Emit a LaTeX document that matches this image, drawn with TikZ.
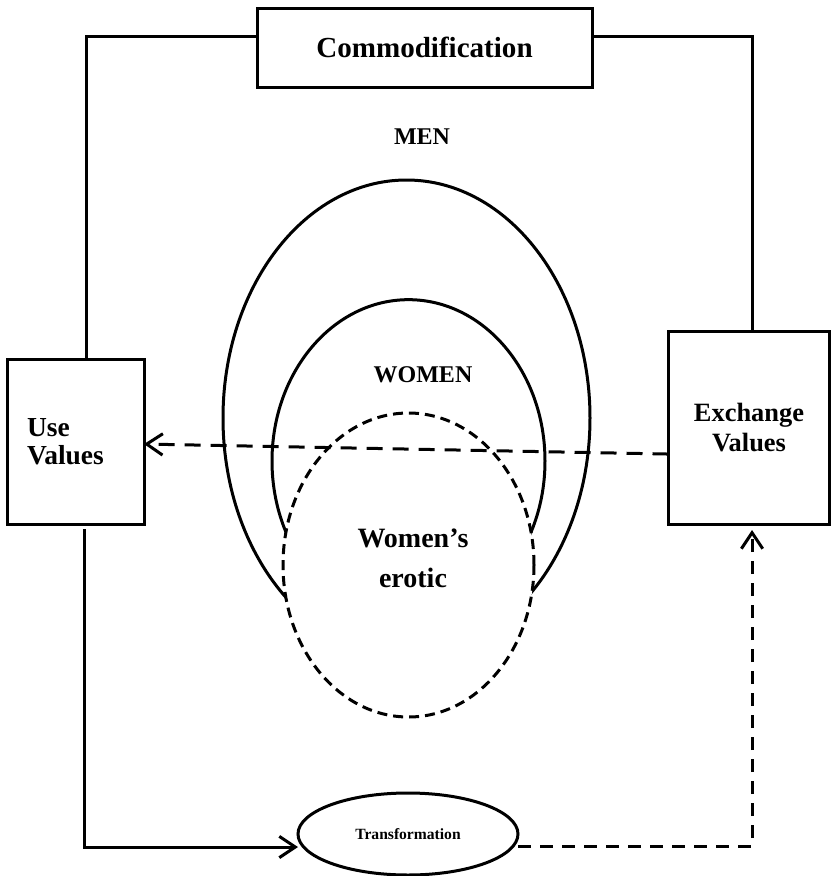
\documentclass[tikz,border=0pt]{standalone}
\usepackage{fontspec}
\setmainfont{Liberation Serif}
\usetikzlibrary{shapes.geometric,arrows.meta}
\begin{document}
\begin{tikzpicture}[x=0.75pt,y=-0.75pt,
  lw/.style={line width=2.25pt},
  boxnode/.style={draw,lw,inner sep=0pt,outer sep=0pt},
  oval/.style={draw,lw,ellipse,inner sep=0pt,outer sep=0pt},
  lbl/.style={inner sep=0pt,outer sep=0pt,font=\bfseries},
  tip/.style={-{Straight Barb[length=12pt,width=16pt,line width=2.25pt]}},
  dashlong/.style={dash pattern=on 12pt off 7.5pt},
  dashmid/.style={dash pattern=on 10pt off 6.5pt},
  dashshort/.style={dash pattern=on 7.5pt off 4.5pt}
]
\useasboundingbox (0,0) rectangle (831,876);

% boxes
\node[boxnode,minimum width=251.25pt,minimum height=59.25pt,
  font=\fontsize{21.8}{24}\selectfont\bfseries] (comm) at (424.5,47.5) {Commodification};
\node[boxnode,minimum width=102.75pt,minimum height=123.75pt,
  text width=72.75pt,align=left,
  font=\fontsize{20.6}{21}\selectfont\bfseries] (use) at (75.5,441.5) {Use\\Values};
\node[boxnode,minimum width=120.75pt,minimum height=144.75pt,
  align=center,
  font=\fontsize{19.8}{22.5}\selectfont\bfseries] (exch) at (749,427.5) {Exchange\\Values};

% nested ellipses
\node[oval,minimum width=275.25pt,minimum height=357pt] (men) at (406.5,418) {};
\node[oval,minimum width=204.75pt,minimum height=242pt] (women) at (408.5,461) {};
\node[oval,dashshort,fill=white,minimum width=188.25pt,minimum height=228pt] (erotic) at (408.5,565) {};

\node[lbl,font=\fontsize{18}{20}\selectfont\bfseries] (menlbl) at (422,137) {MEN};
\node[lbl,font=\fontsize{18}{20}\selectfont\bfseries] (womenlbl) at (423,375) {WOMEN};
\node[lbl,align=center,font=\fontsize{21}{30}\selectfont\bfseries] (erolbl) at (413,558) {Women’s\\erotic};

% transformation
\node[oval,minimum width=165pt,minimum height=61.5pt,
  font=\fontsize{11.7}{13}\selectfont\bfseries] (trans) at (408,834) {Transformation};

% connectors
\draw[lw] ([yshift=7.9pt]comm.west) -| ([xshift=7.9pt]use.north);
\draw[lw] ([yshift=7.9pt]comm.east) -| ([xshift=2.3pt]exch.north);
\draw[lw,tip] ([xshift=7.1pt,yshift=-3.75pt]use.south) |- ([yshift=-9.75pt]trans.west);
\draw[lw,dashmid,tip] ([yshift=-9pt]trans.east) -| ([xshift=2.3pt,yshift=-4.5pt]exch.south);
\draw[lw,dashlong,tip] ([yshift=-19.9pt]exch.west) -- ([yshift=-1.9pt]use.east);
\end{tikzpicture}
\end{document}
